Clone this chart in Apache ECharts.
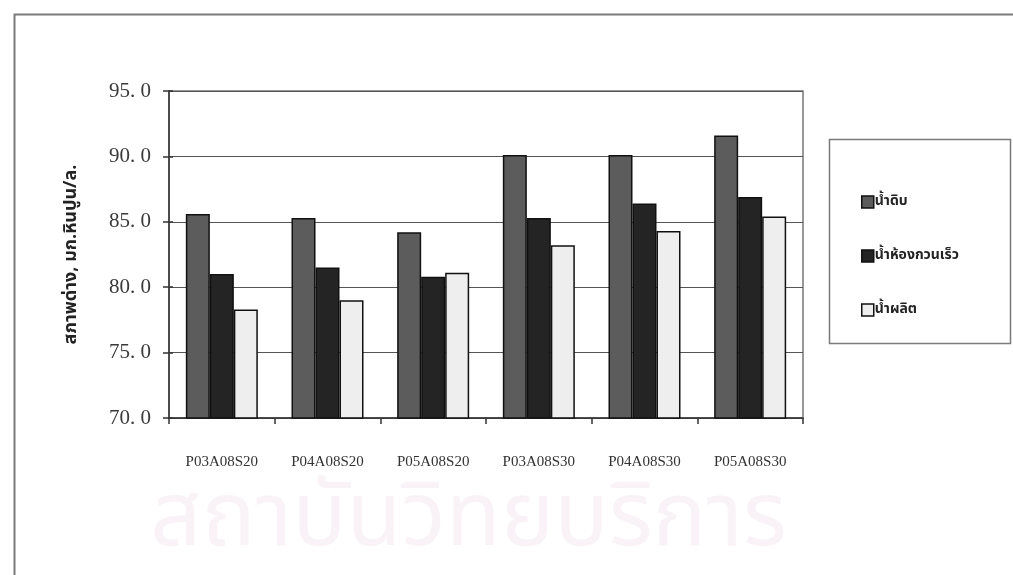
<!DOCTYPE html>
<html>
<head>
<meta charset="utf-8">
<script src="https://cdn.jsdelivr.net/npm/echarts@6/dist/echarts.min.js"></script>
<style>
  html, body { margin: 0; padding: 0; background: #fff; }
  #chart { width: 1013px; height: 575px; }
</style>
</head>
<body>
<div id="chart"></div>
<script>
// Alkalinity per run, three sampling points
const categories = ['P03A08S20', 'P04A08S20', 'P05A08S20', 'P03A08S30', 'P04A08S30', 'P05A08S30'];
const seriesNames = ['น้ำดิบ', 'น้ำห้องกวนเร็ว', 'น้ำผลิต'];
const rawWater = [85.6, 85.3, 84.2, 90.1, 90.1, 91.6];
const rapidMixWater = [81.0, 81.5, 80.8, 85.3, 86.4, 86.9];
const producedWater = [78.3, 79.0, 81.1, 83.2, 84.3, 85.4];
const yTicks = [70, 75, 80, 85, 90, 95];
const yAxisTitle = 'สภาพด่าง, มก.หินปูน/ล.';

const thaiFont = '"Noto Sans Thai", "Loma", "Garuda", "Noto Sans", "DejaVu Sans", sans-serif';
const serifFont = '"Liberation Serif", "DejaVu Serif", serif';

const colors = ['#5c5c5c', '#242424', '#eeeeee'];
const values = [rawWater, rapidMixWater, producedWater];

const chart = echarts.init(document.getElementById('chart'), null, { renderer: 'canvas' });

const series = seriesNames.map((name, i) => ({
  name: name,
  type: 'bar',
  data: values[i],
  barWidth: 24,
  barGap: '0%',
  itemStyle: { color: colors[i], borderColor: '#111', borderWidth: 1.5 },
  emphasis: { disabled: true }
}));

chart.setOption({
  animation: false,
  backgroundColor: '#ffffff',
  grid: {
    left: 169, top: 91, right: 210, bottom: 157,
    show: true, borderColor: '#777', borderWidth: 1.5, backgroundColor: 'transparent'
  },
  legend: {
    orient: 'vertical',
    left: 856, top: 190,
    itemWidth: 12, itemHeight: 12, itemGap: 40,
    icon: 'rect',
    data: seriesNames.map((n, i) => ({
      name: n,
      itemStyle: { color: colors[i], borderColor: '#111', borderWidth: 1.5 }
    })),
    textStyle: { fontFamily: thaiFont, fontSize: 14, fontWeight: 'bold', color: '#222', padding: [0, 0, 0, -4] },
    selectedMode: false
  },
  xAxis: {
    type: 'category',
    data: categories,
    axisLine: { lineStyle: { color: '#333', width: 1.5 } },
    axisTick: { show: true, length: 6, lineStyle: { color: '#333', width: 1.5 } },
    axisLabel: { margin: 37, fontFamily: serifFont, fontSize: 15, color: '#333' }
  },
  yAxis: [{
    type: 'value',
    min: 70, max: 95, interval: 5,
    name: yAxisTitle,
    nameLocation: 'middle',
    nameGap: 88,
    nameRotate: 90,
    nameTextStyle: { fontFamily: thaiFont, fontSize: 18, fontWeight: 'bold', color: '#222' },
    axisLine: { show: true, lineStyle: { color: '#333', width: 1.5 } },
    axisTick: { show: true, length: 6, lineStyle: { color: '#333', width: 1.5 } },
    axisLabel: {
      margin: 18, fontFamily: serifFont, fontSize: 21, color: '#3a3a3a',
      formatter: v => yTicks.includes(v) ? v.toFixed(1).replace('.', '. ') : ''
    },
    splitLine: { show: true, lineStyle: { color: '#555', width: 1 } }
  }, {
    // inward half of the cross-shaped tick marks
    type: 'value', position: 'left', offset: 0,
    min: 70, max: 95, interval: 5,
    axisLine: { show: false },
    axisTick: { show: true, inside: true, length: 4, lineStyle: { color: '#333', width: 1.5 } },
    axisLabel: { show: false },
    splitLine: { show: false }
  }],
  graphic: [
    // outer frame of the figure
    { type: 'rect', left: 12, top: 12, shape: { width: 1010, height: 600 },
      style: { fill: 'none', stroke: '#7a7a7a', lineWidth: 2 }, silent: true, z: -1 },
    // legend box
    { type: 'rect', left: 827, top: 137, shape: { width: 181, height: 204 },
      style: { fill: 'none', stroke: '#7a7a7a', lineWidth: 1.5 }, silent: true },
    // faint institute watermark along the bottom
    { type: 'text', left: 150, top: 482,
      style: { text: 'สถาบันวิทยบริการ', font: '90px ' + thaiFont, fill: 'rgba(225,190,215,0.2)' },
      silent: true, z: -2 }
  ],
  series: series
});
</script>
</body>
</html>
